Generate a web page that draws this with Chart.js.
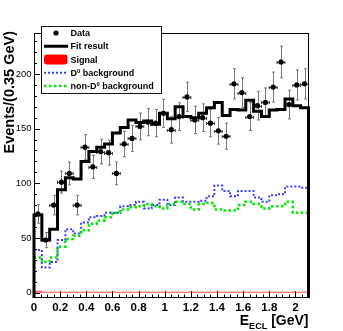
<!DOCTYPE html>
<html>
<head>
<meta charset="utf-8">
<script src="https://cdn.jsdelivr.net/npm/chart.js@4.4.1/dist/chart.umd.min.js"></script>
<style>
body { margin: 0; background: #fff; }
</style>
</head>
<body>
<canvas id="ecl-chart" width="343" height="331"></canvas>
<script>
// 35 bins of 0.06 GeV between 0 and 2.1 GeV
let binLo = 0;
let binW = 0.06;

let dataVals = [72, 48, 80, 101, 109, 80, 133, 115, 129, 128,
    109, 136, 141, 152, 156, 155, 164, 149, 161, 179,
    158, 160, 155, 148, 143, 191, 183, 161, 171, 174,
    188, 211, 172, 190, 191];

let fitVals = [71, 48, 58, 94, 105, 104, 120, 129, 133, 136,
    146, 151, 158, 155.5, 157, 154, 164, 159, 170, 161,
    160, 164, 169, 174, 162, 167.5, 167, 176, 166, 161,
    167, 167.5, 177, 171, 169];

let signalVals = [1.2, 0.3, 0.3, 0.3, 0.3, 0.3, 0.3, 0.3, 0.3, 0.3,
    0.3, 0.3, 0.3, 0.3, 0.3, 0.3, 0.3, 0.3, 0.3, 0.3,
    0.3, 0.3, 0.3, 0.3, 0.3, 0.3, 0.3, 0.3, 0.3, 0.3,
    0.3, 0.3, 0.3, 0.3, 0.3];

let d0Vals = [39, 23, 28, 48, 58, 54, 64, 69, 70, 73,
    73, 79, 80, 83, 77, 80, 85, 80, 87, 83,
    83, 84, 88, 98, 93, 88, 93, 93, 87, 83,
    89, 90, 97, 97, 96];

let nonD0Vals = [32, 28, 32, 42, 49, 52, 57, 63, 66, 69,
    73, 76, 78, 79, 81, 79, 77, 81, 83, 81,
    76, 81, 82, 76, 75, 75, 80, 83, 81, 77,
    79, 79, 83, 73, 73];

let xTicks = [0, 0.2, 0.4, 0.6, 0.8, 1, 1.2, 1.4, 1.6, 1.8, 2];
let xTickLabels = ['0', '0.2', '0.4', '0.6', '0.8', '1', '1.2', '1.4', '1.6', '1.8', '2'];
let yTicks = [0, 50, 100, 150, 200];
let yTickLabels = ['0', '50', '100', '150', '200'];

let legendLabels = ['Data', 'Fit result', 'Signal', 'D^0 background', 'non-D^0 background'];

const yMin = -5;
const yMax = 237.5;
const xMax = binLo + binW * dataVals.length;

const FONT = '"Liberation Sans", Arial, Helvetica, sans-serif';

let binCenters = dataVals.map((v, i) => binLo + (i + 0.5) * binW);

// histogram outline: edges, dropping to the frame bottom at both ends
function histPoints(vals)
{
    let pts = [{ x: binLo, y: yMin }];
    vals.forEach((v, i) => pts.push({ x: binLo + i * binW, y: v }));
    pts.push({ x: xMax, y: vals[vals.length - 1] });
    pts.push({ x: xMax, y: yMin });
    return pts;
}

// text with ^x superscripts / _x subscripts
function drawRich(ctx, parts, x, y, size)
{
    for (let p of parts)
    {
        let s = p.small ? size * 0.65 : size;
        ctx.font = 'bold ' + s + 'px ' + FONT;
        let dy = p.sup ? -size * 0.38 : (p.sub ? size * 0.3 : 0);
        ctx.fillText(p.t, x, y + dy);
        x += ctx.measureText(p.t).width;
    }
    return x;
}

function richWidth(ctx, parts, size)
{
    let w = 0;
    for (let p of parts)
    {
        let s = p.small ? size * 0.65 : size;
        ctx.font = 'bold ' + s + 'px ' + FONT;
        w += ctx.measureText(p.t).width;
    }
    return w;
}

function parseLabel(str)
{
    let bits = str.split('^');
    let parts = [{ t: bits[0] }];
    for (let k = 1; k < bits.length; k++)
    {
        parts.push({ t: bits[k][0], sup: true, small: true });
        parts.push({ t: bits[k].substring(1) });
    }
    return parts;
}

const decor = {
    id: 'decor',
    beforeDatasetsDraw(chart)
    {
        const ctx = chart.ctx, xs = chart.scales.x, ys = chart.scales.y;
        ctx.save();
        ctx.lineWidth = 1;
        dataVals.forEach((v, i) =>
        {
            let px = Math.round(xs.getPixelForValue(binCenters[i])) + 0.5;
            let py = Math.round(ys.getPixelForValue(v)) + 0.5;
            let e = Math.sqrt(v);
            let pTop = ys.getPixelForValue(v + e);
            let pBot = ys.getPixelForValue(v - e);
            let pl = xs.getPixelForValue(binCenters[i] - binW / 2);
            let pr = xs.getPixelForValue(binCenters[i] + binW / 2);
            ctx.strokeStyle = '#777';
            ctx.beginPath();
            ctx.moveTo(px, pTop); ctx.lineTo(px, pBot);
            ctx.moveTo(px - 1.5, pTop); ctx.lineTo(px + 1.5, pTop);
            ctx.moveTo(px - 1.5, pBot); ctx.lineTo(px + 1.5, pBot);
            ctx.stroke();
            ctx.strokeStyle = '#333';
            ctx.beginPath();
            ctx.moveTo(pl, py); ctx.lineTo(pr, py);
            ctx.moveTo(pl, py - 1.5); ctx.lineTo(pl, py + 1.5);
            ctx.moveTo(pr, py - 1.5); ctx.lineTo(pr, py + 1.5);
            ctx.stroke();
        });
        ctx.restore();
    },
    afterDatasetsDraw(chart)
    {
        const ctx = chart.ctx, a = chart.chartArea;
        const xs = chart.scales.x, ys = chart.scales.y;
        ctx.save();
        ctx.strokeStyle = '#000';
        ctx.lineWidth = 1;
        ctx.strokeRect(Math.round(a.left) + 0.5, Math.round(a.top) + 0.5,
            Math.round(a.right - a.left) - 1, Math.round(a.bottom - a.top) - 1);
        ctx.beginPath();
        // y ticks, inside
        for (let v = 0; v <= yMax; v += 10)
        {
            let py = Math.round(ys.getPixelForValue(v)) + 0.5;
            let len = v % 50 === 0 ? 6 : 3;
            ctx.moveTo(a.left, py); ctx.lineTo(a.left + len, py);
        }
        // x ticks, inside
        for (let k = 0; k * 0.05 <= xMax + 1e-9; k++)
        {
            let px = Math.round(xs.getPixelForValue(k * 0.05)) + 0.5;
            let len = k % 4 === 0 ? 7 : 3.5;
            ctx.moveTo(px, a.bottom); ctx.lineTo(px, a.bottom - len);
        }
        ctx.stroke();
        ctx.restore();
    },
    afterDraw(chart)
    {
        const ctx = chart.ctx, a = chart.chartArea;
        const ys = chart.scales.y;
        ctx.save();
        ctx.fillStyle = '#000';

        // y tick labels
        ctx.font = '9.5px ' + FONT;
        ctx.textAlign = 'right';
        ctx.textBaseline = 'middle';
        yTicks.forEach((v, i) =>
        {
            ctx.fillText(yTickLabels[i], a.left - 2.5, ys.getPixelForValue(v));
        });
        ctx.textBaseline = 'alphabetic';

        // y title
        ctx.save();
        ctx.translate(14, 31);
        ctx.rotate(-Math.PI / 2);
        ctx.textAlign = 'right';
        ctx.font = 'bold 14.5px ' + FONT;
        ctx.fillText('Events/(0.35 GeV)', 0, 0);
        ctx.restore();

        // x title
        ctx.textAlign = 'left';
        let xt = [{ t: 'E' }, { t: 'ECL', sub: true, small: true }, { t: ' [GeV]' }];
        let w = richWidth(ctx, xt, 14);
        drawRich(ctx, xt, a.right - w, 325, 14);

        // legend
        let lx = 41, ly = 26, lw = 120, lh = 67;
        ctx.fillStyle = '#fff';
        ctx.fillRect(lx, ly, lw, lh);
        ctx.strokeStyle = '#111';
        ctx.lineWidth = 1;
        ctx.strokeRect(lx + 0.5, ly + 0.5, lw, lh);
        let rowY = legendLabels.map((s, i) => 33 + i * 13.25);
        // markers
        ctx.fillStyle = '#000';
        ctx.beginPath(); ctx.arc(56, rowY[0], 2.6, 0, 2 * Math.PI); ctx.fill();
        ctx.lineWidth = 3; ctx.strokeStyle = '#000';
        ctx.beginPath(); ctx.moveTo(44, rowY[1]); ctx.lineTo(68, rowY[1]); ctx.stroke();
        ctx.fillStyle = '#ff0000';
        ctx.beginPath(); ctx.roundRect(44, rowY[2] - 5, 23.5, 10, 3); ctx.fill();
        ctx.lineWidth = 2; ctx.strokeStyle = 'rgb(60,60,255)'; ctx.setLineDash([2, 2]);
        ctx.beginPath(); ctx.moveTo(44, rowY[3]); ctx.lineTo(68, rowY[3]); ctx.stroke();
        ctx.lineWidth = 2.5; ctx.strokeStyle = 'rgb(0,230,0)'; ctx.setLineDash([2.5, 2.5]);
        ctx.beginPath(); ctx.moveTo(44, rowY[4]); ctx.lineTo(68, rowY[4]); ctx.stroke();
        ctx.setLineDash([]);
        ctx.fillStyle = '#000';
        legendLabels.forEach((s, i) =>
        {
            drawRich(ctx, parseLabel(s), 70.5, rowY[i] + 3.2, 9);
        });
        ctx.restore();
    }
};

let canvasElement = document.getElementById('ecl-chart');

const config = {
    type: 'scatter',
    data: {
        datasets: [
            {
                label: 'Data',
                data: dataVals.map((v, i) => ({ x: binCenters[i], y: v })),
                backgroundColor: '#000',
                borderColor: '#000',
                pointRadius: 2.6,
                pointBorderWidth: 0,
                order: 1
            },
            {
                label: 'Fit result',
                data: histPoints(fitVals),
                showLine: true,
                stepped: true,
                borderColor: '#000',
                borderWidth: 3,
                pointRadius: 0,
                clip: false,
                order: 0
            },
            {
                label: 'Signal',
                data: histPoints(signalVals),
                showLine: true,
                stepped: true,
                borderColor: 'rgb(255,90,90)',
                backgroundColor: '#ff0000',
                borderWidth: 1,
                fill: 'origin',
                pointRadius: 0,
                order: 4
            },
            {
                label: 'D0 background',
                data: histPoints(d0Vals),
                showLine: true,
                stepped: true,
                borderColor: 'rgb(60,60,255)',
                borderWidth: 2,
                borderDash: [2, 2],
                pointRadius: 0,
                order: 3
            },
            {
                label: 'non-D0 background',
                data: histPoints(nonD0Vals),
                showLine: true,
                stepped: true,
                borderColor: 'rgb(0,230,0)',
                borderWidth: 2.5,
                borderDash: [2.5, 2.5],
                pointRadius: 0,
                order: 2
            }
        ]
    },
    options: {
        responsive: false,
        animation: false,
        devicePixelRatio: 1,
        layout: { padding: { top: 33, right: 34.5, left: 0, bottom: 0 } },
        plugins: { legend: { display: false }, tooltip: { enabled: false } },
        scales: {
            x: {
                type: 'linear',
                min: binLo,
                max: xMax,
                grid: { display: false, drawTicks: false },
                border: { display: false },
                afterBuildTicks: (scale) => { scale.ticks = xTicks.map(v => ({ value: v })); },
                afterFit: (scale) => { scale.height = 33; },
                ticks: {
                    padding: 3,
                    maxRotation: 0,
                    autoSkip: false,
                    color: '#000',
                    font: { family: FONT, size: 11.5, weight: 'bold' },
                    callback: (v, i) => xTickLabels[i]
                }
            },
            y: {
                type: 'linear',
                min: yMin,
                max: yMax,
                grid: { display: false, drawTicks: false },
                border: { display: false },
                afterBuildTicks: (scale) => { scale.ticks = yTicks.map(v => ({ value: v })); },
                afterFit: (scale) => { scale.width = 34; },
                ticks: { display: false }
            }
        }
    },
    plugins: [decor]
};

var eclChart = new Chart(canvasElement, config);
</script>
</body>
</html>
